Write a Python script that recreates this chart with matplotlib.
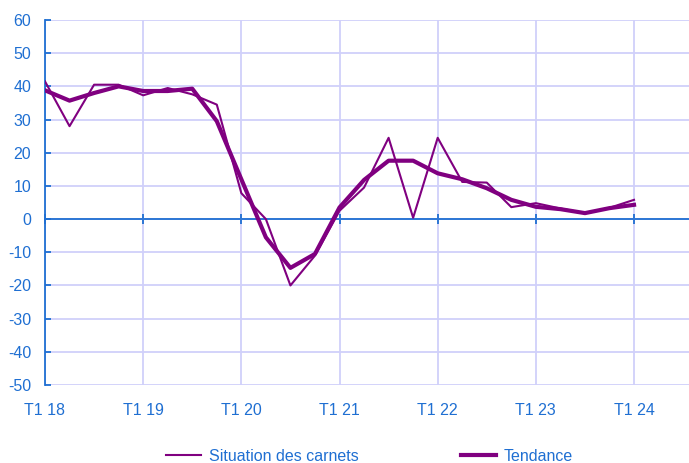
import numpy as np
import matplotlib
matplotlib.use('Agg')
from matplotlib import pyplot as plt

# quarterly data, T1 2018 .. T1 2024
quarters = np.arange(25)
situation = [41.5, 28, 40.5, 40.5, 37.3, 39.5, 37.6, 34.5, 7.8, 0, -20, -11,
             2.5, 9.5, 24.5, 0.4, 24.5, 11.2, 11, 3.6, 4.8, 3.2, 1.8, 3.4, 5.8]
tendance = [38.8, 35.7, 38, 40, 38.6, 38.6, 39.3, 29.5, 12, -5.5, -14.7, -10.5,
            3.5, 11.8, 17.6, 17.6, 13.8, 12, 9.3, 5.8, 3.7, 3, 1.8, 3.3, 4.3]
year_ticks = [0, 4, 8, 12, 16, 20, 24]
year_labels = ['T1 18', 'T1 19', 'T1 20', 'T1 21', 'T1 22', 'T1 23', 'T1 24']

blue = '#1f6fd2'
grid = '#d0d0fa'
purple = '#800080'

plt.rcParams['font.family'] = ['Liberation Sans', 'DejaVu Sans']
plt.rcParams['axes.unicode_minus'] = False

fig = plt.figure(figsize=(6.89, 4.63), dpi=100)
ax = fig.add_axes([45/689, 1-385/463, 1-45/689, 365/463])

ax.set_xlim(0, 26.24)
ax.set_ylim(-50, 60)
ax.set_yticks(np.arange(-50, 61, 10))
ax.set_xticks(year_ticks)
ax.grid(True, color=grid, linewidth=1.3)
ax.set_axisbelow(True)

for s in ['top', 'right']:
    ax.spines[s].set_visible(False)
ax.spines['left'].set_color(blue)
ax.spines['left'].set_linewidth(1.3)
ax.spines['bottom'].set_position(('data', 0))
ax.spines['bottom'].set_color(blue)
ax.spines['bottom'].set_linewidth(1.3)
ax.tick_params(axis='y', direction='in', length=4, width=1.3, color=blue,
               labelcolor=blue, labelsize=11.5, pad=10)
ax.tick_params(axis='x', direction='inout', length=7, width=1.3, color=blue,
               labelbottom=False)

sec = ax.secondary_xaxis('bottom')
sec.set_xticks(year_ticks, year_labels)
sec.tick_params(length=0, labelcolor=blue, labelsize=11.5, pad=13)
sec.spines['bottom'].set_visible(False)

ax.plot(quarters, situation, color=purple, linewidth=1.5, label='Situation des carnets', zorder=3)
ax.plot(quarters, tendance, color=purple, linewidth=3, label='Tendance', zorder=4)

leg = fig.legend(loc='center', bbox_to_anchor=(0.536, 0.015), ncol=2, frameon=False,
                 fontsize=11.5, handlelength=2.2, handletextpad=0.5, columnspacing=6.4)
for t in leg.get_texts():
    t.set_color(blue)

plt.savefig('out.png', dpi=100)
